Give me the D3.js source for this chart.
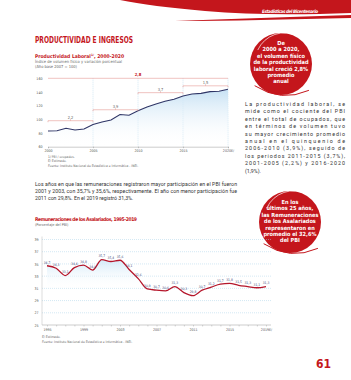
<!DOCTYPE html>
<html>
<head>
<meta charset="utf-8">
<script src="https://cdn.jsdelivr.net/npm/d3@7"></script>
<style>
  body { margin: 0; background: #fff; }
  text { font-family: "Liberation Sans Narrow", "DejaVu Sans Condensed", "Roboto", sans-serif; }
  .body-text { font-family: "Roboto", "Liberation Sans", sans-serif; }
</style>
</head>
<body>
<div id="page"></div>
<script>
// --- data ---
const prodYears = d3.range(2000, 2021);
const prodIndex = [83, 83.4, 86.9, 84.4, 85.9, 92.5, 96, 99, 107, 106, 112.5, 118, 122.5, 126.5, 129.5, 134, 137, 138, 140.5, 141, 144];
const prodTicks = [60, 80, 100, 120, 140, 160];
const prodYearTicks = [2000, 2005, 2010, 2015, 2020];
const prodYearLabels = ["2000", "2005", "2010", "2015", "2020E/"];
// average growth per period: [from, to, level on index axis, label]
const growthFrom = [2000, 2005, 2010, 2015];
const growthTo = [2005, 2010, 2015, 2020];
const growthLevel = [98, 114, 139, 149];
const growthLabels = ["2,2", "3,9", "3,7", "1,5"];
const growthTotal = "2,8";

const remYears = d3.range(1995, 2020);
const remShare = [34.7, 34.3, 33.1, 34.4, 34.8, 34.0, 35.7, 35.4, 35.6, 34.1, 32.6, 30.9, 30.7, 30.6, 31.3, 30.3, 29.8, 30.7, 31.2, 31.7, 31.8, 31.5, 31.3, 31.1, 31.3];
const remTicks = [25, 27, 29, 31, 33, 35, 37, 39];
const remYearTicks = [1995, 1999, 2003, 2007, 2011, 2015, 2019];
const remYearLabels = ["1995", "1999", "2003", "2007", "2011", "2015", "2019E/"];

const circle1 = ["De", "2000 a 2020,", "el volumen físico", "de la productividad", "laboral creció 2,8%", "promedio", "anual"];
const circle2 = ["En los", "últimos 25 años,", "las Remuneraciones", "de los Asalariados", "representaron en", "promedio el 32,6%", "del PBI"];
const para1 = ["La productividad laboral, se", "mide como el cociente del PBI", "entre el total de ocupados, que", "en términos de volumen tuvo", "su mayor crecimiento promedio", "anual en el quinquenio de", "2006-2010 (3,9%), seguido de", "los periodos 2011-2015 (3,7%),", "2001-2005 (2,2%) y 2016-2020", "(1,9%)."];
const para2 = ["Los años en que las remuneraciones registraron mayor participación en el PBI fueron", "2001 y 2003, con 35,7% y 35,6%, respectivamente. El año con menor participación fue", "2011 con 29,8%. En el 2019 registró 31,3%."];

const RED = "#c4161c";
const NAVY = "#2f3566";
const GRID = "#a9d3e8";
const fmt = d3.format(".1f");

const svg = d3.select("#page").append("svg")
  .attr("width", 351).attr("height", 380);

const defs = svg.append("defs");
const g1 = defs.append("linearGradient").attr("id", "fill1").attr("x1", 0).attr("x2", 0).attr("y1", 0).attr("y2", 1);
g1.append("stop").attr("offset", "0%").attr("stop-color", "#c6e1f4");
g1.append("stop").attr("offset", "100%").attr("stop-color", "#ffffff").attr("stop-opacity", 0);
const g2 = defs.append("linearGradient").attr("id", "fill2").attr("x1", 0).attr("x2", 0).attr("y1", 0).attr("y2", 1);
g2.append("stop").attr("offset", "0%").attr("stop-color", "#d3eaf8");
g2.append("stop").attr("offset", "45%").attr("stop-color", "#ffffff").attr("stop-opacity", 0);

// header swoosh
svg.append("path")
  .attr("d", "M120,0 L351,0 L351,13 C300,15 250,15 205,11 C170,8 140,4 120,0 Z")
  .attr("fill", RED);
svg.append("path")
  .attr("d", "M175,21 C230,19 290,17 351,15 L351,18 C290,19.5 230,21 175,21 Z")
  .attr("fill", RED);
svg.append("text").attr("x", 318).attr("y", 12.5).attr("text-anchor", "end")
  .attr("font-size", 4.6).attr("font-style", "italic").attr("font-weight", "bold")
  .attr("fill", "#fff").attr("textLength", 56).text("Estadísticas del Bicentenario");

svg.append("text").attr("x", 35).attr("y", 42.5)
  .attr("font-size", 8).attr("font-weight", "bold").attr("fill", RED)
  .attr("textLength", 98).attr("lengthAdjust", "spacingAndGlyphs")
  .text("PRODUCTIVIDAD E INGRESOS");

// ---------- chart 1 ----------
const x1 = d3.scaleLinear().domain([2000, 2020]).range([48, 228]);
const y1 = d3.scaleLinear().domain([60, 160]).range([146.7, 78.3]);

const t1 = svg.append("text").attr("x", 35).attr("y", 57.5)
  .attr("font-size", 5).attr("font-weight", "bold").attr("fill", RED);
t1.append("tspan").text("Productividad Laboral");
t1.append("tspan").attr("font-size", 3.2).attr("dy", -1.6).text("1/");
t1.append("tspan").attr("dy", 1.6).text(", 2000-2020");
svg.append("text").attr("x", 35).attr("y", 62.8).attr("font-size", 4).attr("fill", "#666")
  .attr("textLength", 87).text("Índice de volumen físico y variación porcentual");
svg.append("text").attr("x", 35).attr("y", 67.8).attr("font-size", 4).attr("fill", "#666")
  .text("(Año base 2007 = 100)");

const c1 = svg.append("g");
// vertical dotted grid
c1.selectAll(".vg").data(prodYearTicks.slice(1)).join("line")
  .attr("x1", d => x1(d)).attr("x2", d => x1(d))
  .attr("y1", y1(160)).attr("y2", y1(60))
  .attr("stroke", GRID).attr("stroke-width", 0.5).attr("stroke-dasharray", "1,1");

const area1 = d3.area().x((d, i) => x1(prodYears[i])).y0(y1(60)).y1(d => y1(d));
c1.append("path").datum(prodIndex).attr("d", area1).attr("fill", "url(#fill1)");
c1.append("path").datum(prodIndex)
  .attr("d", d3.line().x((d, i) => x1(prodYears[i])).y(d => y1(d)))
  .attr("fill", "none").attr("stroke", NAVY).attr("stroke-width", 1.1);

// growth annotations
const ann = c1.append("g").attr("stroke", "#e59a95").attr("stroke-width", 0.6);
ann.append("line").attr("x1", x1(2000)).attr("x2", x1(2020)).attr("y1", y1(160)).attr("y2", y1(160));
growthFrom.forEach((f, i) => {
  const yy = y1(growthLevel[i]);
  ann.append("line").attr("x1", x1(f)).attr("x2", x1(growthTo[i])).attr("y1", yy).attr("y2", yy);
  [f, growthTo[i]].forEach(e => ann.append("line").attr("x1", x1(e)).attr("x2", x1(e)).attr("y1", yy).attr("y2", yy + 1.5));
  ann.append("line").attr("x1", x1((f + growthTo[i]) / 2)).attr("x2", x1((f + growthTo[i]) / 2)).attr("y1", yy - 1.2).attr("y2", yy);
  c1.append("text").attr("x", x1((f + growthTo[i]) / 2)).attr("y", yy - 2)
    .attr("text-anchor", "middle").attr("font-size", 4).attr("fill", "#666").text(growthLabels[i]);
});
c1.append("text").attr("x", x1(2010)).attr("y", y1(160) - 2.2).attr("text-anchor", "middle")
  .attr("font-size", 4.2).attr("font-weight", "bold").attr("fill", RED).text(growthTotal);

// axes
const ax1 = c1.append("g").attr("transform", `translate(0,${y1(60)})`)
  .call(d3.axisBottom(x1).tickValues(prodYearTicks).tickFormat((d, i) => prodYearLabels[i]).tickSize(1.5).tickPadding(1.5));
ax1.select(".domain").attr("stroke", "#999").attr("stroke-width", 0.5);
ax1.selectAll(".tick line").attr("stroke", "#999").attr("stroke-width", 0.5);
ax1.selectAll("text").attr("font-size", 3.6).attr("fill", "#555").attr("font-family", null);
const ay1 = c1.append("g").attr("transform", "translate(44,0)")
  .call(d3.axisLeft(y1).tickValues(prodTicks).tickSize(0).tickPadding(1.5));
ay1.select(".domain").remove();
ay1.selectAll("text").attr("font-size", 3.6).attr("fill", "#555").attr("font-family", null);

const notes1 = ["1/ PBI / ocupados.", "E/ Estimado.", "Fuente: Instituto Nacional de Estadística e Informática - INEI."];
svg.selectAll(".n1").data(notes1).join("text")
  .attr("x", 48).attr("y", (d, i) => 157.5 + i * 4.5)
  .attr("font-size", 3.3).attr("fill", "#666").text(d => d);

// ---------- circles ----------
function bubble(cx, cy, r, lines, top) {
  svg.append("circle").attr("cx", cx).attr("cy", cy).attr("r", r).attr("fill", RED);
  svg.append("path")
    .attr("d", `M${cx - r * 0.75},${cy - r * 0.45} A${r * 0.95},${r * 0.95} 0 0 1 ${cx + r * 0.55},${cy - r * 0.9}`)
    .attr("fill", "none").attr("stroke", "#fff").attr("stroke-width", 0.8).attr("opacity", 0.85);
  svg.append("path")
    .attr("d", `M${cx - r * 0.85},${cy + r * 0.7} Q${cx},${cy + r * 1.25} ${cx + r * 0.9},${cy + r * 0.85}`)
    .attr("fill", "none").attr("stroke", RED).attr("stroke-width", 1);
  svg.selectAll(null).data(lines).join("text")
    .attr("x", cx).attr("y", (d, i) => top + i * 6.4)
    .attr("text-anchor", "middle").attr("font-size", 5.6).attr("font-weight", "bold")
    .attr("fill", "#fff").text(d => d);
}
bubble(281, 64, 31, circle1, 45);
bubble(290, 222, 31, circle2, 204);

// ---------- paragraphs ----------
svg.selectAll(".p1").data(para1).join("text")
  .attr("class", "body-text")
  .attr("x", 245).attr("y", (d, i) => 106 + i * 7.4)
  .attr("font-size", 5.3).attr("fill", "#333")
  .attr("textLength", (d, i) => i < para1.length - 1 ? 100 : null)
  .text(d => d);
svg.selectAll(".p2").data(para2).join("text")
  .attr("class", "body-text")
  .attr("x", 35).attr("y", (d, i) => 186 + i * 7)
  .attr("font-size", 5.2).attr("fill", "#333")
  .attr("textLength", (d, i) => i < para2.length - 1 ? 202 : null)
  .text(d => d);

// ---------- chart 2 ----------
const x2 = d3.scaleLinear().domain([1995, 2019]).range([47, 266]);
const y2 = d3.scaleLinear().domain([25, 39]).range([325, 239.5]);

svg.append("text").attr("x", 35).attr("y", 220.5)
  .attr("font-size", 5).attr("font-weight", "bold").attr("fill", RED)
  .attr("textLength", 102).text("Remuneraciones de los Asalariados, 1995-2019");
svg.append("text").attr("x", 35).attr("y", 226).attr("font-size", 3.8).attr("fill", "#666")
  .text("(Porcentaje del PBI)");

const c2 = svg.append("g");
c2.selectAll(".hg").data(remTicks.slice(1)).join("line")
  .attr("x1", 42).attr("x2", 271)
  .attr("y1", d => y2(d)).attr("y2", d => y2(d))
  .attr("stroke", GRID).attr("stroke-width", 0.5).attr("stroke-dasharray", "1,1");

const curve2 = d3.curveMonotoneX;
c2.append("path").datum(remShare)
  .attr("d", d3.area().curve(curve2).x((d, i) => x2(remYears[i])).y0(y2(25)).y1(d => y2(d)))
  .attr("fill", "url(#fill2)");
c2.append("path").datum(remShare)
  .attr("d", d3.line().curve(curve2).x((d, i) => x2(remYears[i])).y(d => y2(d)))
  .attr("fill", "none").attr("stroke", "#b5162b").attr("stroke-width", 1.3);

c2.selectAll(".lab").data(remShare).join("text")
  .attr("x", (d, i) => x2(remYears[i]))
  .attr("y", d => y2(d) - 2.2)
  .attr("text-anchor", "middle").attr("font-size", 3.3).attr("fill", "#3b4677")
  .text(d => fmt(d).replace(".", ","));

const ax2 = c2.append("g").attr("transform", `translate(0,${y2(25)})`)
  .call(d3.axisBottom(x2).tickValues(remYears).tickFormat(d => {
    const k = remYearTicks.indexOf(d);
    return k >= 0 ? remYearLabels[k] : "";
  }).tickSize(1.5).tickPadding(1.5));
ax2.select(".domain").attr("stroke", "#999").attr("stroke-width", 0.5).attr("d", `M42,0H271`);
ax2.selectAll(".tick line").attr("stroke", "#999").attr("stroke-width", 0.4);
ax2.selectAll("text").attr("font-size", 3.6).attr("fill", "#555").attr("font-family", null);
c2.append("line").attr("x1", 42).attr("x2", 42).attr("y1", y2(39) - 3).attr("y2", y2(25))
  .attr("stroke", "#bbb").attr("stroke-width", 0.5);
const ay2 = c2.append("g").attr("transform", "translate(40,0)")
  .call(d3.axisLeft(y2).tickValues(remTicks).tickSize(0).tickPadding(1.5));
ay2.select(".domain").remove();
ay2.selectAll("text").attr("font-size", 3.6).attr("fill", "#555").attr("font-family", null);

const notes2 = ["E/ Estimado.", "Fuente: Instituto Nacional de Estadística e Informática - INEI."];
svg.selectAll(".n2").data(notes2).join("text")
  .attr("x", 42).attr("y", (d, i) => 338 + i * 4.8)
  .attr("font-size", 3.3).attr("fill", "#666").text(d => d);

svg.append("text").attr("x", 331).attr("y", 367.5).attr("text-anchor", "end")
  .attr("font-size", 12).attr("font-weight", "bold").attr("fill", RED).text("61");
</script>
</body>
</html>
